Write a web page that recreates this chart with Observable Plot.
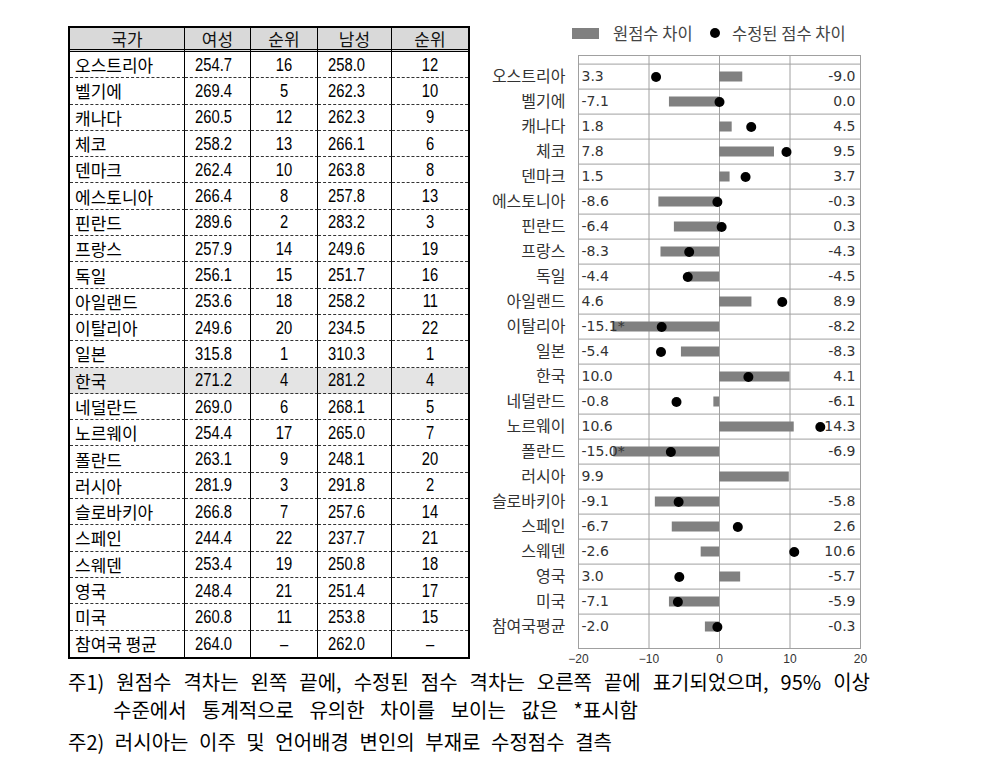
<!DOCTYPE html>
<html><head><meta charset="utf-8">
<script src="https://cdn.jsdelivr.net/npm/d3@7"></script>
<script src="https://cdn.jsdelivr.net/npm/@observablehq/plot@0.6"></script>
<style>
html,body{margin:0;padding:0;background:#fff;}
body{width:992px;height:776px;position:relative;overflow:hidden;font-family:"Noto Sans CJK KR",sans-serif;color:#000;}
#tbl{position:absolute;left:68px;top:26px;border:2px solid #000;display:grid;
  grid-template-columns:115px 66px 67px 74px 76px;grid-template-rows:24px repeat(23,26.3px);}
#tbl div{box-sizing:border-box;border-right:1px solid #000;border-bottom:1px dashed #333;display:flex;align-items:center;white-space:nowrap;overflow:visible;line-height:1;}
#tbl div.last{border-right:none;}
#tbl div.lastrow{border-bottom:none;}
#tbl div.hd{background:#d9d9d9;border-bottom:3px double #000;justify-content:center;font-size:17px;color:#111;}
#tbl div.name{font-size:17px;padding-left:5px;}
#tbl div.num{font-family:"Liberation Sans","Arial",sans-serif;font-size:18px;padding-left:10px;}
#tbl div.num span{display:inline-block;transform:scaleX(0.82);transform-origin:left center;}
#tbl div.rank{font-family:"Liberation Sans","Arial",sans-serif;font-size:18px;justify-content:center;}
#tbl div.rank span{display:inline-block;transform:scaleX(0.82);transform-origin:center center;}
#tbl div.kr{background:#e4e4e4;}
#chart{position:absolute;left:460px;top:20px;}
.leg{position:absolute;font-size:16.5px;color:#444;line-height:1;}
.note{position:absolute;font-size:20px;line-height:1;white-space:nowrap;color:#000;text-align:justify;text-align-last:justify;}
</style>
</head><body>
<div id="tbl"></div>
<div id="chart"></div>
<div style="position:absolute;left:572px;top:28px;width:27px;height:11px;background:#808080;"></div>
<div class="leg" style="left:613px;top:25px;">원점수 차이</div>
<div style="position:absolute;left:710px;top:28px;width:10px;height:10px;border-radius:50%;background:#000;"></div>
<div class="leg" style="left:732px;top:25px;">수정된 점수 차이</div>
<div class="note" style="left:68px;top:672px;width:802px;">주1) 원점수 격차는 왼쪽 끝에, 수정된 점수 격차는 오른쪽 끝에 표기되었으며, 95% 이상</div>
<div class="note" style="left:113px;top:700px;width:525px;">수준에서 통계적으로 유의한 차이를 보이는 값은 *표시함</div>
<div class="note" style="left:68px;top:732px;width:544px;">주2) 러시아는 이주 및 언어배경 변인의 부재로 수정점수 결측</div>
<script>
// ---- Table data ----
const tableHeaders = ["국가", "여성", "순위", "남성", "순위"];
const tableCountries = ["오스트리아","벨기에","캐나다","체코","덴마크","에스토니아","핀란드","프랑스","독일","아일랜드","이탈리아","일본","한국","네덜란드","노르웨이","폴란드","러시아","슬로바키아","스페인","스웨덴","영국","미국","참여국 평균"];
const femaleScore = ["254.7","269.4","260.5","258.2","262.4","266.4","289.6","257.9","256.1","253.6","249.6","315.8","271.2","269.0","254.4","263.1","281.9","266.8","244.4","253.4","248.4","260.8","264.0"];
const femaleRank = ["16","5","12","13","10","8","2","14","15","18","20","1","4","6","17","9","3","7","22","19","21","11","–"];
const maleScore = ["258.0","262.3","262.3","266.1","263.8","257.8","283.2","249.6","251.7","258.2","234.5","310.3","281.2","268.1","265.0","248.1","291.8","257.6","237.7","250.8","251.4","253.8","262.0"];
const maleRank = ["12","10","9","6","8","13","3","19","16","11","22","1","4","5","7","20","2","14","21","18","17","15","–"];
const highlightCountry = "한국";

// ---- Chart data ----
const chartCountries = ["오스트리아","벨기에","캐나다","체코","덴마크","에스토니아","핀란드","프랑스","독일","아일랜드","이탈리아","일본","한국","네덜란드","노르웨이","폴란드","러시아","슬로바키아","스페인","스웨덴","영국","미국","참여국평균"];
const rawDiff = [3.3,-7.1,1.8,7.8,1.5,-8.6,-6.4,-8.3,-4.4,4.6,-15.1,-5.4,10.0,-0.8,10.6,-15.0,9.9,-9.1,-6.7,-2.6,3.0,-7.1,-2.0];
const adjDiff = [-9.0,0.0,4.5,9.5,3.7,-0.3,0.3,-4.3,-4.5,8.9,-8.2,-8.3,4.1,-6.1,14.3,-6.9,null,-5.8,2.6,10.6,-5.7,-5.9,-0.3];
const rawSignificant = [false,false,false,false,false,false,false,false,false,false,true,false,false,false,false,true,false,false,false,false,false,false,false];
const xTicks = [-20,-10,0,10,20];

// ---- Build table ----
const tbl = document.getElementById("tbl");
function cell(text, cls, wrap) {
  const d = document.createElement("div");
  d.className = cls;
  if (wrap) {
    const s = document.createElement("span");
    s.textContent = text;
    d.appendChild(s);
  } else {
    d.textContent = text;
  }
  tbl.appendChild(d);
}
tableHeaders.forEach((h, j) => cell(h, "hd" + (j === 4 ? " last" : ""), false));
tableCountries.forEach((c, i) => {
  const extra = (c === highlightCountry ? " kr" : "") + (i === tableCountries.length - 1 ? " lastrow" : "");
  cell(c, "name" + extra, false);
  cell(femaleScore[i], "num" + extra, true);
  cell(femaleRank[i], "rank" + extra, true);
  cell(maleScore[i], "num" + extra, true);
  cell(maleRank[i], "rank last" + extra, true);
});

// ---- Chart ----
const rows = chartCountries.map((c, i) => ({country: c, raw: rawDiff[i], adj: adjDiff[i], sig: rawSignificant[i]}));
const withAdj = rows.filter(d => d.adj != null);
const H = 653, mTop = 35, mBottom = 25;
const band = (H - mTop - mBottom) / chartCountries.length;
const numFont = "DejaVu Sans, Verdana, sans-serif";

const chart = Plot.plot({
  width: 420, height: H,
  marginLeft: 118, marginRight: 20, marginTop: mTop, marginBottom: mBottom,
  x: {domain: [-20, 20], ticks: xTicks},
  y: {domain: chartCountries, padding: 0},
  style: {background: "transparent", overflow: "visible"},
  marks: [
    Plot.ruleY(chartCountries, {y: d => d, dy: -band / 2, stroke: "#a0a0a0", strokeOpacity: 1}),
    Plot.ruleX([-10, 0, 10], {stroke: "#a0a0a0", strokeOpacity: 1}),
    Plot.barX(rows, {x1: 0, x2: "raw", y: "country", fill: "#808080", insetTop: 7.5, insetBottom: 7.5}),
    Plot.dot(withAdj, {x: "adj", y: "country", r: 5, fill: "#000", stroke: "none"}),
    Plot.text(rows, {x: -20, y: "country", text: d => d.raw.toFixed(1) + (d.sig ? "*" : ""), textAnchor: "start", dx: 3, fontSize: 14, fontFamily: numFont, fill: "#333"}),
    Plot.text(withAdj, {x: 20, y: "country", text: d => d.adj.toFixed(1), textAnchor: "end", dx: -5, fontSize: 14, fontFamily: numFont, fill: "#333"}),
    Plot.frame({stroke: "#a0a0a0"}),
    Plot.axisY({tickSize: 0, tickPadding: 13, fontSize: 16, fontFamily: "Noto Sans CJK KR", fill: "#333", label: null}),
    Plot.axisX({ticks: xTicks, tickSize: 0, tickPadding: 6, fontSize: 12, fontFamily: "Liberation Sans, Arial, sans-serif", fill: "#333", label: null})
  ]
});
document.getElementById("chart").appendChild(chart);
</script>
</body></html>
